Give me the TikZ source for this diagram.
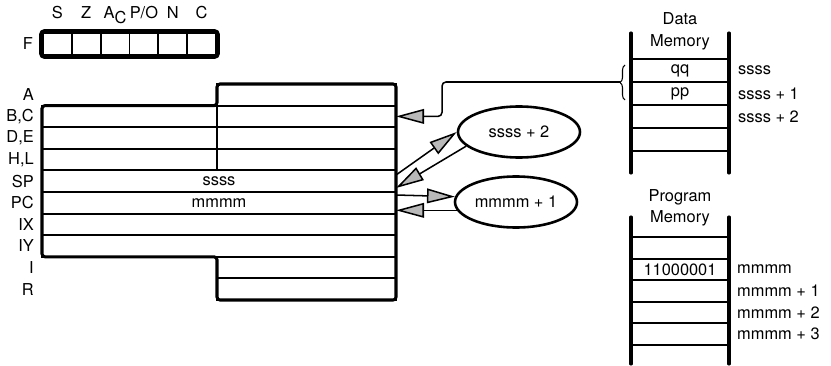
\documentclass[tikz,border=0pt]{standalone}
\usepackage{fontspec}
\setmainfont{TeX Gyre Heros}
\usepackage{tikz}
\usetikzlibrary{arrows.meta,positioning,shapes.geometric,fit,calc,decorations.pathreplacing}
\tikzset{
  reg/.style={draw,line width=1.8pt,minimum height=6.48mm,inner sep=0pt,%
    outer sep=0pt,anchor=north west},
  reglbl/.style={anchor=east,inner sep=0pt},
  flagcell/.style={draw,line width=1.6pt,minimum width=8.65mm,%
    minimum height=6.6mm,inner sep=0pt,outer sep=0pt},
  flaglbl/.style={anchor=base,inner sep=0pt},
  mem/.style={draw,line width=1.6pt,minimum width=2.94cm,minimum height=6.9mm,%
    inner sep=0pt,outer sep=0pt},
  rail/.style={line width=2.6pt,line cap=round},
  addr/.style={anchor=west,inner sep=0pt},
  oval/.style={draw,ellipse,line width=2.2pt,minimum width=3.66cm,%
    minimum height=1.53cm,inner sep=0pt},
  flow/.style={-{Triangle[length=8.4mm,width=4.4mm,fill=gray!55]},line width=1.3pt},
}

\begin{document}
\begin{tikzpicture}[x=0.03cm,y=-0.03cm,font=\fontsize{14pt}{18.5pt}\selectfont]
\useasboundingbox (0,0) rectangle (831,366);

% flag register
\node[flagcell,anchor=west] (f1) at (43,44) {};
\foreach \j/\k in {1/2,2/3,3/4,4/5,5/6}
  \node[flagcell,right=0pt of f\j] (f\k) {};
\node[draw,line width=2.8pt,rounded corners=1.2mm,inner sep=0.7mm,fit=(f1)(f6)] (flags) {};
\node[reglbl,left=1.8mm of flags] (flbl) {F};
\foreach \j/\lbl in {1/S,2/Z,3/{A\raisebox{-4pt}{C}},4/{P/O},5/N,6/C}
  \node[flaglbl] (fl\j) at ($(f\j.north)+(0,-14)$) {\lbl};

% register file
\node[reg,minimum width=10.62cm] (bc) at (42,105.6) {};
\node[reg,minimum width=10.62cm,below=0pt of bc] (de) {};
\node[reg,minimum width=10.62cm,below=0pt of de] (hl) {};
\node[reg,minimum width=10.62cm,below=0pt of hl] (sp) {ssss};
\node[reg,minimum width=10.62cm,below=0pt of sp] (pc) {mmmm};
\node[reg,minimum width=10.62cm,below=0pt of pc] (ix) {};
\node[reg,minimum width=10.62cm,below=0pt of ix] (iy) {};
\node[reg,minimum width=5.37cm,above left=0pt of bc.north east] (a) {};
\node[reg,minimum width=5.37cm,below left=0pt of iy.south east] (i) {};
\node[reg,minimum width=5.37cm,below=0pt of i] (r) {};
\draw[line width=1.8pt] (a.south west) -- (hl.south -| a.west);
\draw[line width=2.6pt,rounded corners=0.9mm] (bc.north west) -- (a.south west)
  |- (a.north east) -- (r.south east) -| (i.north west) -- (iy.south west) -- cycle;
\foreach \rg/\lbl in {a/A,bc/{B,C},de/{D,E},hl/{H,L},sp/SP,pc/PC,ix/IX,iy/IY,i/I,r/R}
  \node[reglbl,xshift=-2.4mm] (l\rg) at (\rg.west -| bc.west) {\lbl};

% address ovals
\node[oval] (s2) at (519,132) {ssss + 2};
\node[oval] (m1) at (516,202) {mmmm + 1};
\draw[flow] ($(sp.north east)+(0,4.6)$) -- (s2.west);
\draw[flow] (s2.195) -- ($(sp.south east)+(0,-4)$);
\draw[flow] ($(pc.north east)+(0,3)$) -- (m1.175);
\draw[flow] (m1.188) -- (m1.188 -| pc.east);

% data memory
\node[mem] (qq) at (680,70.5) {qq};
\node[mem,below=0pt of qq] (pp) {pp};
\node[mem,below=0pt of pp] (d3) {};
\node[mem,below=0pt of d3] (d4) {};
\draw[rail] ($(qq.north west)+(0,-26)$) -- ($(d4.south west)+(0,22)$);
\draw[rail] ($(qq.north east)+(0,-26)$) -- ($(d4.south east)+(0,22)$);
\node[above=2.7mm of qq,align=center,inner sep=0pt] (dhead) {Data\\Memory};
\node[addr,right=2.7mm of qq] (s0) {ssss};
\node[addr,right=2.7mm of pp] (s1) {ssss + 1};
\node[addr,right=2.7mm of d3] (s2a) {ssss + 2};
\draw[decorate,decoration={brace,amplitude=1.5mm},line width=0.9pt]
  ($(pp.south west)+(-6,-5)$) -- ($(qq.north west)+(-6,6)$);
\coordinate (dtip) at ($(qq.south west)+(-11,0)$);
\draw[flow,rounded corners=1.2mm] (dtip) -| ($(bc.east)+(46,0)$) -- (bc.east);

% program memory
\node[mem,minimum height=6.48mm] (pm0) at (680,247.8) {};
\node[mem,minimum height=6.48mm,below=0pt of pm0] (pm1) {11000001};
\node[mem,minimum height=6.48mm,below=0pt of pm1] (pm2) {};
\node[mem,minimum height=6.48mm,below=0pt of pm2] (pm3) {};
\node[mem,minimum height=6.48mm,below=0pt of pm3] (pm4) {};
\draw[rail] ($(pm0.north west)+(0,-20)$) -- ($(pm4.south west)+(0,19)$);
\draw[rail] ($(pm0.north east)+(0,-20)$) -- ($(pm4.south east)+(0,19)$);
\node[above=3.1mm of pm0,align=center,inner sep=0pt] (phead) {Program\\Memory};
\node[addr,right=2.4mm of pm1] (m0) {mmmm};
\node[addr,right=2.4mm of pm2] (m1a) {mmmm + 1};
\node[addr,right=2.4mm of pm3] (m2a) {mmmm + 2};
\node[addr,right=2.4mm of pm4] (m3a) {mmmm + 3};
\end{tikzpicture}
\end{document}
